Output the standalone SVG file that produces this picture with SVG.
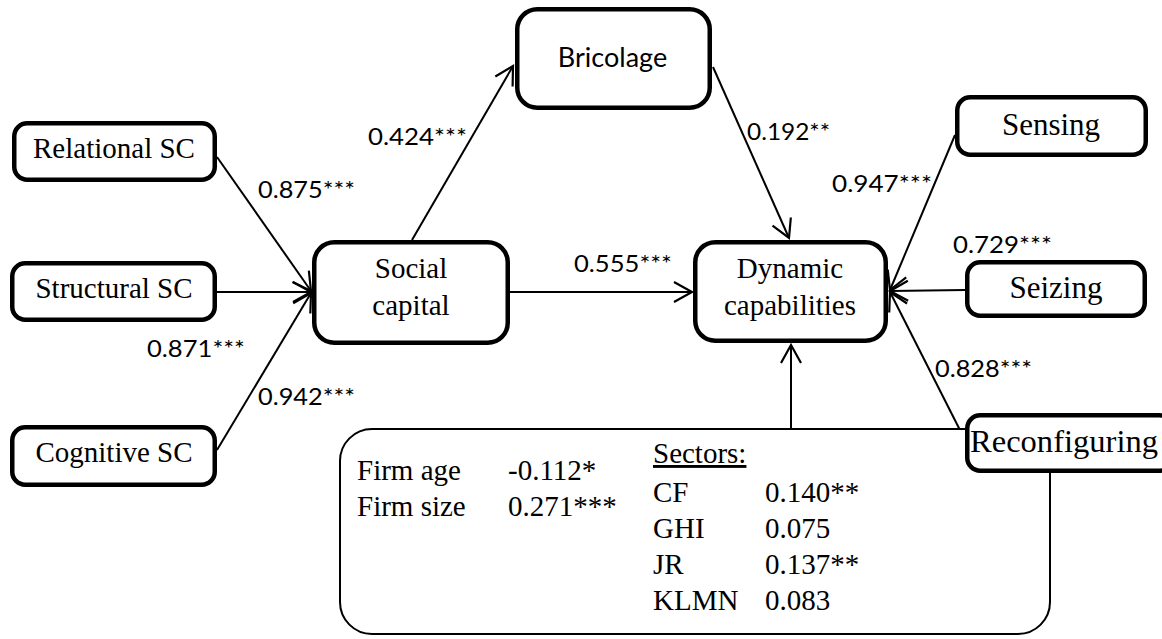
<svg xmlns="http://www.w3.org/2000/svg" width="1162" height="639" viewBox="0 0 1162 639">
<defs>
<style>
.node{fill:#fff;stroke:#000;stroke-width:4.5}
.ctrl{fill:#fff;stroke:#000;stroke-width:2}
.edge{fill:none;stroke:#000;stroke-width:2}
.sans{font-family:Lato,"Liberation Sans",sans-serif;font-size:24px;fill:#000}
.lbl{font-family:Lato,"Liberation Sans",sans-serif;font-size:27px;fill:#000}
</style>
<marker id="arr" markerUnits="userSpaceOnUse" markerWidth="24" markerHeight="24" viewBox="-20 -12 22 24" refX="0" refY="0" orient="auto" overflow="visible">
<path d="M-18,-10 L0,0 L-18,10" fill="none" stroke="#000" stroke-width="2.2"/>
</marker>
</defs>
<rect width="1162" height="639" fill="#fff"/>

<g id="connectors">
<line class="edge" x1="217" y1="157" x2="311" y2="291" marker-end="url(#arr)"/>
<line class="edge" x1="217" y1="292" x2="311" y2="292" marker-end="url(#arr)"/>
<line class="edge" x1="217" y1="450" x2="311" y2="293" marker-end="url(#arr)"/>
<line class="edge" x1="412" y1="240" x2="513" y2="66" marker-end="url(#arr)"/>
<line class="edge" x1="713" y1="67" x2="789" y2="238" marker-end="url(#arr)"/>
<line class="edge" x1="510" y1="292" x2="692" y2="292" marker-end="url(#arr)"/>
<line class="edge" x1="955" y1="135" x2="890" y2="290" marker-end="url(#arr)"/>
<line class="edge" x1="965" y1="290" x2="890" y2="291" marker-end="url(#arr)"/>
<line class="edge" x1="965" y1="440" x2="890" y2="292" marker-end="url(#arr)"/>
<line class="edge" x1="791" y1="428" x2="791" y2="345" marker-end="url(#arr)"/>
</g>

<g id="edge-labels">
<text class="sans" x="258" y="198" textLength="97" lengthAdjust="spacingAndGlyphs">0.875***</text>
<text class="sans" x="147" y="357" textLength="98" lengthAdjust="spacingAndGlyphs">0.871***</text>
<text class="sans" x="258" y="405" textLength="97" lengthAdjust="spacingAndGlyphs">0.942***</text>
<text class="sans" x="368" y="145" textLength="99" lengthAdjust="spacingAndGlyphs">0.424***</text>
<text class="sans" x="574" y="272" textLength="98" lengthAdjust="spacingAndGlyphs">0.555***</text>
<text class="sans" x="747" y="140" textLength="83" lengthAdjust="spacingAndGlyphs">0.192**</text>
<text class="sans" x="832" y="192" textLength="100" lengthAdjust="spacingAndGlyphs">0.947***</text>
<text class="sans" x="953" y="253" textLength="99" lengthAdjust="spacingAndGlyphs">0.729***</text>
<text class="sans" x="935" y="377" textLength="97" lengthAdjust="spacingAndGlyphs">0.828***</text>
</g>

<g id="controls" font-family="'Liberation Serif', 'Times New Roman', serif" font-size="29" fill="#000">
<rect class="ctrl" x="340" y="429" width="710" height="205" rx="32"/>
<text x="357" y="480">Firm age</text>
<text x="508" y="480">-0.112*</text>
<text x="357" y="516">Firm size</text>
<text x="508" y="516">0.271***</text>
<text x="653" y="463" text-decoration="underline">Sectors:</text>
<text x="653" y="502">CF</text>
<text x="765" y="502">0.140**</text>
<text x="653" y="538">GHI</text>
<text x="765" y="538">0.075</text>
<text x="653" y="574">JR</text>
<text x="765" y="574">0.137**</text>
<text x="653" y="610">KLMN</text>
<text x="765" y="610">0.083</text>
</g>

<g font-family="'Liberation Serif', 'Times New Roman', serif" font-size="29" fill="#000">
<g id="relational-sc">
<rect class="node" x="14.25" y="123.25" width="200.5" height="56.5" rx="13"/>
<text x="114" y="158" text-anchor="middle">Relational SC</text>
</g>
<g id="structural-sc">
<rect class="node" x="12.25" y="263.25" width="202.5" height="56.5" rx="13"/>
<text x="114" y="298" text-anchor="middle">Structural SC</text>
</g>
<g id="cognitive-sc">
<rect class="node" x="12.25" y="427.25" width="202.5" height="57.5" rx="13"/>
<text x="114" y="462" text-anchor="middle">Cognitive SC</text>
</g>
<g id="social-capital">
<rect class="node" x="314.25" y="242.25" width="193.5" height="100.5" rx="20"/>
<text x="411" y="278" text-anchor="middle">Social</text>
<text x="411" y="315" text-anchor="middle">capital</text>
</g>
<g id="bricolage">
<rect class="node" x="517.25" y="9.25" width="192.5" height="98.5" rx="20"/>
<text class="lbl" x="612.5" y="67" text-anchor="middle">Bricolage</text>
</g>
<g id="dynamic-capabilities">
<rect class="node" x="695.25" y="242.25" width="190.5" height="98.5" rx="20"/>
<text x="790" y="278" text-anchor="middle">Dynamic</text>
<text x="790" y="315" text-anchor="middle">capabilities</text>
</g>
<g id="sensing">
<rect class="node" x="957.25" y="97.25" width="188.5" height="57.5" rx="13"/>
<text x="1051" y="135" font-size="31" text-anchor="middle">Sensing</text>
</g>
<g id="seizing">
<rect class="node" x="967.25" y="262.25" width="177.5" height="53.5" rx="13"/>
<text x="1056" y="298" font-size="31" text-anchor="middle">Seizing</text>
</g>
<g id="reconfiguring">
<rect class="node" x="967.25" y="415.25" width="205" height="55.5" rx="13"/>
<text x="970" y="452" font-size="32" textLength="188" lengthAdjust="spacingAndGlyphs">Reconfiguring</text>
</g>
</g>
</svg>
